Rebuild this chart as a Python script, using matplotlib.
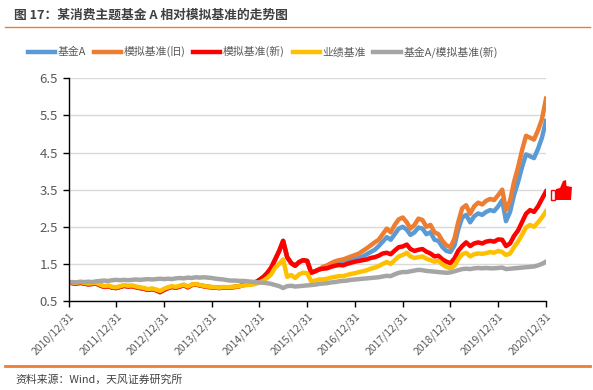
import matplotlib
matplotlib.use("Agg")
import matplotlib.pyplot as plt
import numpy as np
import pandas as pd
from matplotlib.patches import Rectangle, Polygon

plt.rcParams["font.family"] = ["Noto Sans CJK SC", "DejaVu Sans"]

# ── data (month-end readings, 2010/12/31 .. 2020/12/31) ──────────────────────
dates = pd.date_range("2010-12-31", "2020-12-31", freq="ME")

bench_new = [
    1.00,
    0.98, 0.97, 0.99, 0.97, 0.95, 0.96, 0.97, 0.92, 0.88, 0.90, 0.86, 0.85,
    0.88, 0.91, 0.89, 0.90, 0.87, 0.85, 0.83, 0.80, 0.82, 0.79, 0.74, 0.80,
    0.85, 0.88, 0.86, 0.89, 0.93, 0.87, 0.93, 0.95, 0.92, 0.90, 0.88, 0.87,
    0.86, 0.85, 0.87, 0.86, 0.87, 0.88, 0.90, 0.93, 0.95, 0.96, 1.00, 1.07,
    1.15, 1.25, 1.40, 1.62, 1.85, 2.12, 1.68, 1.52, 1.45, 1.55, 1.60, 1.58,
    1.26, 1.30, 1.35, 1.37, 1.38, 1.42, 1.45, 1.47, 1.46, 1.50, 1.53, 1.56,
    1.58, 1.60, 1.62, 1.66, 1.68, 1.72, 1.78, 1.80, 1.76, 1.86, 1.95, 1.97,
    2.02, 1.90, 1.85, 1.88, 1.90, 1.83, 1.78, 1.70, 1.72, 1.62, 1.56, 1.52,
    1.65, 1.85, 1.98, 2.08, 1.98, 2.05, 2.08, 2.05, 2.10, 2.12, 2.10, 2.16,
    2.15, 1.98, 2.05, 2.25, 2.40, 2.62, 2.85, 2.95, 2.90, 3.05, 3.25, 3.45,
]

fund_a = [
    1.00,
    0.98, 0.97, 0.99, 0.97, 0.95, 0.96, 0.97, 0.92, 0.88, 0.90, 0.86, 0.85,
    0.88, 0.91, 0.89, 0.90, 0.87, 0.85, 0.83, 0.80, 0.82, 0.79, 0.74, 0.80,
    0.85, 0.88, 0.86, 0.89, 0.93, 0.87, 0.93, 0.95, 0.92, 0.90, 0.88, 0.87,
    0.86, 0.85, 0.87, 0.86, 0.87, 0.88, 0.90, 0.93, 0.95, 0.96, 1.00, 1.07,
    1.15, 1.25, 1.40, 1.62, 1.85, 2.12, 1.68, 1.52, 1.45, 1.55, 1.60, 1.58,
    1.26, 1.30, 1.35, 1.40, 1.43, 1.48, 1.52, 1.54, 1.55, 1.58, 1.60, 1.63,
    1.66, 1.70, 1.76, 1.82, 1.88, 1.98, 2.10, 2.22, 2.15, 2.30, 2.45, 2.50,
    2.42, 2.28, 2.35, 2.48, 2.45, 2.30, 2.35, 2.15, 2.12, 1.95, 1.85, 1.82,
    2.00, 2.42, 2.75, 2.82, 2.62, 2.78, 2.86, 2.82, 2.90, 2.95, 2.92, 3.05,
    3.22, 2.65, 2.90, 3.35, 3.70, 4.10, 4.45, 4.40, 4.35, 4.60, 4.90, 5.35,
]

bench_old = [
    1.00,
    0.98, 0.97, 0.99, 0.97, 0.95, 0.96, 0.97, 0.92, 0.88, 0.90, 0.86, 0.85,
    0.88, 0.91, 0.89, 0.90, 0.87, 0.85, 0.83, 0.80, 0.82, 0.79, 0.74, 0.80,
    0.85, 0.88, 0.86, 0.89, 0.93, 0.87, 0.93, 0.95, 0.92, 0.90, 0.88, 0.87,
    0.86, 0.85, 0.87, 0.86, 0.87, 0.88, 0.90, 0.93, 0.95, 0.96, 1.00, 1.07,
    1.15, 1.25, 1.40, 1.62, 1.85, 2.12, 1.68, 1.52, 1.45, 1.55, 1.60, 1.58,
    1.26, 1.30, 1.35, 1.42, 1.46, 1.52, 1.57, 1.60, 1.62, 1.66, 1.70, 1.74,
    1.78, 1.85, 1.92, 2.00, 2.08, 2.15, 2.30, 2.45, 2.35, 2.55, 2.70, 2.75,
    2.62, 2.45, 2.55, 2.72, 2.68, 2.50, 2.55, 2.35, 2.30, 2.12, 2.00, 1.95,
    2.18, 2.62, 3.00, 3.08, 2.85, 3.05, 3.15, 3.10, 3.20, 3.25, 3.22, 3.35,
    3.50, 2.95, 3.20, 3.70, 4.10, 4.55, 4.95, 4.90, 4.85, 5.10, 5.40, 5.95,
]

perf_bench = [
    1.02,
    1.00, 0.99, 1.01, 0.99, 0.97, 0.98, 0.99, 0.94, 0.90, 0.92, 0.88, 0.87,
    0.90, 0.93, 0.91, 0.92, 0.89, 0.87, 0.85, 0.82, 0.84, 0.81, 0.77, 0.83,
    0.87, 0.90, 0.88, 0.91, 0.94, 0.89, 0.94, 0.96, 0.93, 0.91, 0.89, 0.88,
    0.87, 0.86, 0.88, 0.87, 0.88, 0.89, 0.90, 0.92, 0.93, 0.94, 0.96, 1.00,
    1.05, 1.12, 1.22, 1.40, 1.50, 1.62, 1.15, 1.20, 1.12, 1.22, 1.26, 1.25,
    1.03, 1.05, 1.08, 1.08, 1.10, 1.13, 1.15, 1.17, 1.17, 1.20, 1.23, 1.25,
    1.28, 1.30, 1.33, 1.37, 1.40, 1.44, 1.50, 1.55, 1.50, 1.60, 1.70, 1.74,
    1.80, 1.70, 1.66, 1.68, 1.70, 1.64, 1.60, 1.56, 1.58, 1.48, 1.42, 1.38,
    1.45, 1.62, 1.76, 1.80, 1.70, 1.76, 1.78, 1.77, 1.79, 1.82, 1.80, 1.85,
    1.82, 1.74, 1.78, 1.95, 2.10, 2.28, 2.48, 2.55, 2.50, 2.62, 2.75, 2.92,
]

ratio = [
    1.00,
    1.01, 1.00, 1.02, 1.01, 1.02, 1.01, 1.03, 1.04, 1.05, 1.04, 1.06, 1.07,
    1.06, 1.07, 1.06, 1.07, 1.08, 1.07, 1.08, 1.09, 1.08, 1.09, 1.10, 1.09,
    1.10, 1.09, 1.11, 1.12, 1.11, 1.13, 1.12, 1.14, 1.13, 1.14, 1.13, 1.12,
    1.10, 1.09, 1.08, 1.06, 1.05, 1.05, 1.04, 1.04, 1.03, 1.02, 1.01, 1.00,
    0.99, 0.98, 0.96, 0.93, 0.90, 0.85, 0.90, 0.91, 0.89, 0.90, 0.91, 0.92,
    0.93, 0.94, 0.96, 0.97, 0.98, 1.00, 1.01, 1.03, 1.04, 1.05, 1.07, 1.08,
    1.09, 1.10, 1.11, 1.12, 1.13, 1.14, 1.16, 1.18, 1.17, 1.22, 1.26, 1.28,
    1.28, 1.30, 1.32, 1.34, 1.33, 1.31, 1.30, 1.29, 1.28, 1.27, 1.26, 1.27,
    1.30, 1.33, 1.36, 1.37, 1.36, 1.38, 1.39, 1.38, 1.39, 1.38, 1.38, 1.39,
    1.40, 1.36, 1.37, 1.38, 1.39, 1.40, 1.41, 1.42, 1.43, 1.46, 1.50, 1.56,
]

series = [
    ("基金A", fund_a, "#5B9BD5"),
    ("模拟基准(旧)", bench_old, "#ED7D31"),
    ("模拟基准(新)", bench_new, "#FF0000"),
    ("业绩基准", perf_bench, "#FFC000"),
    ("基金A/模拟基准(新)", ratio, "#A5A5A5"),
]

tick_dates = pd.to_datetime([f"{y}-12-31" for y in range(2010, 2021)])
tick_labels = [f"{y}/12/31" for y in range(2010, 2021)]

W, H = 593, 390
fig = plt.figure(figsize=(W / 100, H / 100), dpi=100)
ax = fig.add_axes([68.5 / W, 1 - 301 / H, (546 - 68.5) / W, (301 - 78.3) / H])

for label, vals, color in series:
    ax.plot(dates, vals, color=color, lw=3.2, label=label, solid_joinstyle="round")

ax.set_ylim(0.5, 6.5)
ax.set_yticks(np.arange(0.5, 6.6, 1.0))
ax.set_yticklabels([f"{v:.1f}" for v in np.arange(0.5, 6.6, 1.0)])
ax.set_xlim(tick_dates[0], tick_dates[-1])
ax.set_xticks(tick_dates)
ax.set_xticklabels(tick_labels, rotation=45, ha="right", rotation_mode="anchor")
ax.grid(axis="y", color="#D9D9D9", lw=1.0)
ax.set_axisbelow(True)
for s in ("top", "right"):
    ax.spines[s].set_visible(False)
for s in ("left", "bottom"):
    ax.spines[s].set_color("#000000")
    ax.spines[s].set_linewidth(1.0)
ax.tick_params(axis="y", labelsize=9.5, colors="#000000", labelcolor="#595959",
               length=4, width=1, direction="out")
ax.tick_params(axis="x", labelsize=7.5, colors="#000000", labelcolor="#595959",
               length=4, width=1, direction="out", pad=3)

fig.legend(loc="center", bbox_to_anchor=(263 / W, 1 - 52 / H), ncol=5, frameon=False,
           fontsize=7.8, handlelength=2.5, handletextpad=0.25, columnspacing=0.7,
           labelcolor="#595959")

# title, rules and source
fig.text(14 / W, 1 - 15 / H, "图 17：某消费主题基金 A 相对模拟基准的走势图",
         fontsize=9.2, fontweight="bold", color="#404040", va="center", ha="left")
fig.add_artist(plt.Line2D([5 / W, 590 / W], [1 - 27 / H] * 2, color="#ED7D31", lw=1.0))
fig.add_artist(plt.Line2D([5 / W, 590 / W], [1 - 366 / H] * 2, color="#ED7D31", lw=2.0))
fig.text(15 / W, 1 - 380 / H, "资料来源：Wind，天风证券研究所",
         fontsize=7.8, color="#404040", va="center", ha="left")

# small red mark at the end of the new-benchmark line
def px(x, y):
    return (x / W, 1 - y / H)

fig.add_artist(Rectangle(px(550.5, 200), 4.5 / W, 10 / H, fill=False,
                         ec="#FF0000", lw=1.0, transform=fig.transFigure))
thumb = [px(556, 189), px(560, 188), px(563, 181), px(566, 180), px(566.5, 186),
         px(572, 187), px(571, 200), px(556, 200)]
fig.add_artist(Polygon(thumb, closed=True, fc="#FF0000", ec="none",
                       transform=fig.transFigure))

fig.savefig("out.png", dpi=100)
